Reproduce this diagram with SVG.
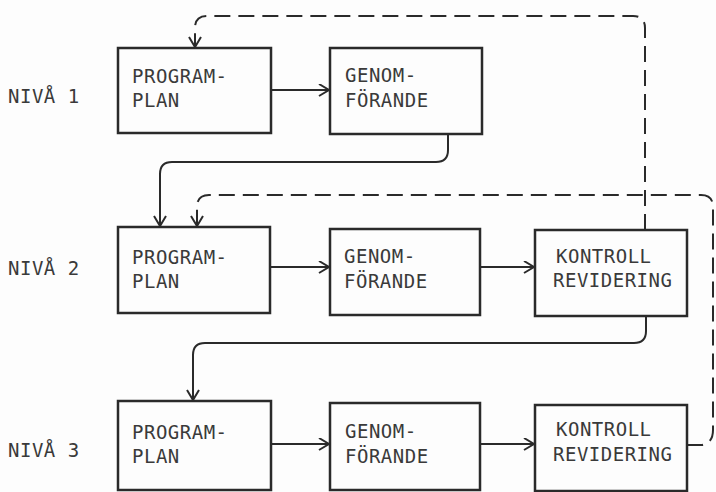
<svg xmlns="http://www.w3.org/2000/svg" width="716" height="492" viewBox="0 0 716 492">
<style>
.box{fill:none;stroke:#2a2a2a;stroke-width:2.5}
.t{font-family:"DejaVu Sans Mono","Liberation Mono",monospace;font-size:19px;letter-spacing:0.5px;fill:#3a3a3a}
.lbl{font-family:"DejaVu Sans Mono","Liberation Mono",monospace;font-size:19px;letter-spacing:0.5px;fill:#3a3a3a}
.c{fill:none;stroke:#2a2a2a;stroke-width:2}
.d{fill:none;stroke:#2a2a2a;stroke-width:2;stroke-dasharray:16 8}
</style>
<defs>
<marker id="a" markerUnits="userSpaceOnUse" markerWidth="14" markerHeight="14" refX="11" refY="6.5" orient="auto">
<path d="M1,0.5 L11,6.5 L1,12.5" fill="none" stroke="#2a2a2a" stroke-width="2"/>
</marker>
</defs>
<rect width="716" height="492" fill="#fdfdfd"/>
<g id="labels">
<text class="lbl" x="8" y="103">NIVÅ 1</text>
<text class="lbl" x="8" y="275">NIVÅ 2</text>
<text class="lbl" x="8" y="457">NIVÅ 3</text>
</g>
<g id="n1-plan"><rect class="box" x="118" y="48" width="153" height="85"/><text class="t" x="132" y="83">PROGRAM-</text><text class="t" x="132" y="107">PLAN</text></g>
<g id="n1-genom"><rect class="box" x="330" y="48" width="152" height="86"/><text class="t" x="345" y="82">GENOM-</text><text class="t" x="345" y="107">FÖRANDE</text></g>
<g id="n2-plan"><rect class="box" x="118" y="227" width="152" height="86"/><text class="t" x="132" y="264">PROGRAM-</text><text class="t" x="132" y="288">PLAN</text></g>
<g id="n2-genom"><rect class="box" x="330" y="229" width="150" height="86"/><text class="t" x="344" y="263">GENOM-</text><text class="t" x="344" y="288">FÖRANDE</text></g>
<g id="n2-kontroll"><rect class="box" x="535" y="230" width="152" height="86"/><text class="t" x="556" y="263">KONTROLL</text><text class="t" x="553" y="287">REVIDERING</text></g>
<g id="n3-plan"><rect class="box" x="118" y="401" width="153" height="89"/><text class="t" x="132" y="439">PROGRAM-</text><text class="t" x="132" y="463">PLAN</text></g>
<g id="n3-genom"><rect class="box" x="330" y="403" width="150" height="87"/><text class="t" x="345" y="438">GENOM-</text><text class="t" x="345" y="463">FÖRANDE</text></g>
<g id="n3-kontroll"><rect class="box" x="535" y="405" width="152" height="86"/><text class="t" x="556" y="436">KONTROLL</text><text class="t" x="553" y="461">REVIDERING</text></g>
<g id="connectors">
<path class="c" d="M271,90 L329,90" marker-end="url(#a)"/>
<path class="c" d="M270,267 L329,267" marker-end="url(#a)"/>
<path class="c" d="M480,267 L534,267" marker-end="url(#a)"/>
<path class="c" d="M271,444 L329,444" marker-end="url(#a)"/>
<path class="c" d="M480,444 L534,444" marker-end="url(#a)"/>
<path class="c" d="M448,134 L448,150 Q448,162 436,162 L172,162 Q160,162 160,174 L160,226" marker-end="url(#a)"/>
<path class="c" d="M646,316 L646,331 Q646,343 634,343 L205,343 Q193,343 193,355 L193,400" marker-end="url(#a)"/>
<path class="d" d="M645,230 L645,28 Q645,16 633,16 L207,16 Q195,16 195,28 L195,47" marker-end="url(#a)"/>
<path class="d" d="M687,445 L702,445 Q713,443 713,430 L713,207 Q713,195 701,195 L209,195 Q197,195 197,207 L197,226" marker-end="url(#a)"/>
</g>
</svg>
